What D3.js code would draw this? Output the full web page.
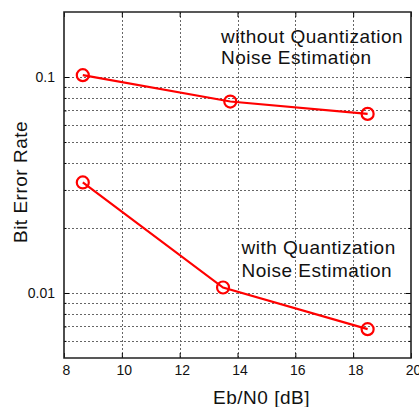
<!DOCTYPE html>
<html>
<head>
<meta charset="utf-8">
<script src="https://cdn.jsdelivr.net/npm/d3@7"></script>
<style>
  body { margin: 0; background: #fff; }
  text { font-family: "Liberation Sans", Arial, Helvetica, sans-serif; fill: #111; }
</style>
</head>
<body>
<div id="chart"></div>
<script>
// data
var xTicks = [8, 10, 12, 14, 16, 18, 20];
var yTicks = [0.01, 0.1];
var yMinor = [0.006, 0.007, 0.008, 0.009, 0.02, 0.03, 0.04, 0.05, 0.06, 0.07, 0.08, 0.09];
var ebnoWithout = [8.65, 13.75, 18.5];
var berWithout = [0.102, 0.077, 0.0675];
var ebnoWith = [8.65, 13.5, 18.5];
var berWith = [0.0325, 0.0106, 0.0068];

var W = 419, H = 407;
// note: "top" is taken by window.top, so plot edges get a p prefix
var pLeft = 64, pRight = 411, pTop = 12, pBottom = 358;

var svg = d3.select('#chart')
  .append('svg')
    .attr('width', W)
    .attr('height', H);

var x = d3.scaleLinear().domain([8, 20]).range([pLeft, pRight]);
var y = d3.scaleLog().domain([0.005, 0.2]).range([pBottom, pTop]);

// grid
var grid = svg.append('g')
  .attr('stroke', '#666')
  .attr('stroke-width', 1)
  .attr('stroke-dasharray', '2,2');

grid.selectAll('.vg')
  .data(xTicks.slice(1, -1))
  .enter().append('line')
    .attr('x1', function (d) { return Math.round(x(d)) + 0.5; })
    .attr('x2', function (d) { return Math.round(x(d)) + 0.5; })
    .attr('y1', pTop)
    .attr('y2', pBottom);

grid.selectAll('.hg')
  .data(yMinor.concat(yTicks))
  .enter().append('line')
    .attr('x1', pLeft)
    .attr('x2', pRight)
    .attr('y1', function (d) { return Math.round(y(d)) + 0.5; })
    .attr('y2', function (d) { return Math.round(y(d)) + 0.5; });

// axes with inward ticks
var xAxis = svg.append('g')
  .attr('transform', 'translate(0,' + pBottom + ')')
  .call(d3.axisBottom(x).tickValues(xTicks).tickSize(-5).tickPadding(7).tickFormat(d3.format('d')));
xAxis.select('.domain').remove();
xAxis.selectAll('text').attr('font-size', 14).attr('dx', 2).style('font-family', 'Liberation Sans, Arial, sans-serif');

svg.append('g')
  .attr('transform', 'translate(0,' + pTop + ')')
  .call(d3.axisTop(x).tickValues(xTicks).tickSize(-5).tickFormat(''))
  .select('.domain').remove();

var yAxis = svg.append('g')
  .attr('transform', 'translate(' + pLeft + ',0)')
  .call(d3.axisLeft(y).tickValues(yTicks).tickSize(-5).tickPadding(9).tickFormat(d3.format('')));
yAxis.select('.domain').remove();
yAxis.selectAll('text').attr('font-size', 14).style('font-family', 'Liberation Sans, Arial, sans-serif');

svg.append('g')
  .attr('transform', 'translate(' + pRight + ',0)')
  .call(d3.axisRight(y).tickValues(yTicks).tickSize(-5).tickFormat(''))
  .select('.domain').remove();

// minor ticks
svg.append('g')
  .attr('transform', 'translate(' + pLeft + ',0)')
  .call(d3.axisLeft(y).tickValues(yMinor).tickSize(-2.5).tickFormat(''))
  .select('.domain').remove();
svg.append('g')
  .attr('transform', 'translate(' + pRight + ',0)')
  .call(d3.axisRight(y).tickValues(yMinor).tickSize(-2.5).tickFormat(''))
  .select('.domain').remove();

// box
svg.append('path')
  .attr('d', 'M' + pRight + ',' + pTop + 'H' + pLeft + 'V' + pBottom + 'H' + pRight + 'Z')
  .attr('fill', 'none')
  .attr('stroke', '#222')
  .attr('stroke-width', 1.6);

// series
var line = d3.line()
  .x(function (d) { return x(d[0]); })
  .y(function (d) { return y(d[1]); });

[[ebnoWithout, berWithout], [ebnoWith, berWith]].forEach(function (s) {
  var pts = d3.zip(s[0], s[1]);
  svg.append('path')
    .datum(pts)
    .attr('d', line)
    .attr('fill', 'none')
    .attr('stroke', '#ff0000')
    .attr('stroke-width', 2.2);
  svg.selectAll(null)
    .data(pts)
    .enter().append('circle')
      .attr('cx', function (d) { return x(d[0]); })
      .attr('cy', function (d) { return y(d[1]); })
      .attr('r', 6)
      .attr('fill', 'none')
      .attr('stroke', '#ff0000')
      .attr('stroke-width', 2.2);
});

// annotations
function label(txt, px, py) {
  svg.append('text')
    .attr('x', px)
    .attr('y', py)
    .attr('font-size', 19)
    .attr('letter-spacing', 0.5)
    .text(txt);
}
label('without Quantization', 221, 43);
label('Noise Estimation', 221, 64);
label('with Quantization', 241.5, 254);
label('Noise Estimation', 241.5, 276.5);

// axis titles
svg.append('text')
  .attr('x', 261.5)
  .attr('y', 404)
  .attr('text-anchor', 'middle')
  .attr('font-size', 19)
  .attr('letter-spacing', 0.5)
  .text('Eb/N0 [dB]');

svg.append('text')
  .attr('transform', 'translate(27,182) rotate(-90)')
  .attr('text-anchor', 'middle')
  .attr('font-size', 19)
  .attr('letter-spacing', 0.5)
  .text('Bit Error Rate');
</script>
</body>
</html>
